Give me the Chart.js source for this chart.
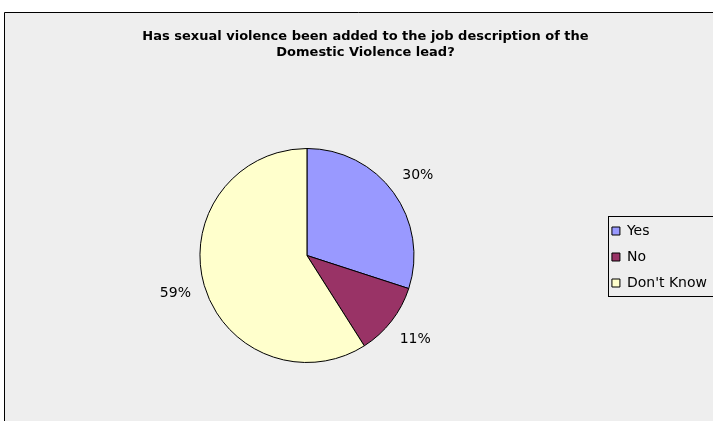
<!DOCTYPE html>
<html>
<head>
<meta charset="utf-8">
<script src="https://cdn.jsdelivr.net/npm/chart.js@4/dist/chart.umd.min.js"></script>
<style>
  html, body { margin: 0; padding: 0; background: #fff; }
  #wrap { width: 713px; height: 421px; }
</style>
</head>
<body>
<div id="wrap"><canvas id="pie" width="713" height="421"></canvas></div>
<script>
const categories = ['Yes', 'No', "Don't Know"]
const values = [30, 11, 59] // phần trăm
const colors = ['#9999FF', '#993366', '#FFFFCC']
const titleLines = ['Has sexual violence been added to the job description of the', 'Domestic Violence lead?']

const FONT = 'DejaVu Sans'
const PANEL_BG = '#eeeeee'

// nền xám + viền trên/trái của khung
const framePlugin = {
  id: 'frame',
  beforeDraw(chart) {
    const ctx = chart.ctx
    ctx.save()
    ctx.fillStyle = '#ffffff'
    ctx.fillRect(0, 0, chart.width, chart.height)
    ctx.fillStyle = PANEL_BG
    ctx.fillRect(4, 12, chart.width - 4, chart.height - 12)
    ctx.strokeStyle = '#000'
    ctx.lineWidth = 1
    ctx.beginPath()
    ctx.moveTo(4.5, chart.height)
    ctx.lineTo(4.5, 12.5)
    ctx.lineTo(chart.width, 12.5)
    ctx.stroke()
    ctx.restore()
  }
}

// khung viền quanh legend
const legendBoxPlugin = {
  id: 'legendBox',
  afterDraw(chart) {
    const boxes = chart.legend && chart.legend.legendHitBoxes
    if (!boxes || !boxes.length) return
    const first = boxes[0]
    const last = boxes[boxes.length - 1]
    const x = Math.round(first.left) - 3.5
    const top = Math.round(first.top) - 7.5
    const bottom = Math.round(last.top + last.height) + 6.5
    const ctx = chart.ctx
    ctx.save()
    ctx.strokeStyle = '#000'
    ctx.lineWidth = 1
    ctx.strokeRect(x, top, chart.width - x + 5, bottom - top)
    ctx.restore()
  }
}

// nhãn phần trăm bên ngoài mỗi miếng
const pctLabelPlugin = {
  id: 'pctLabels',
  afterDatasetsDraw(chart) {
    const ctx = chart.ctx
    const meta = chart.getDatasetMeta(0)
    const total = values.reduce((a, b) => a + b, 0)
    ctx.save()
    ctx.font = `14px "${FONT}"`
    ctx.fillStyle = '#000'
    ctx.textAlign = 'center'
    ctx.textBaseline = 'middle'
    meta.data.forEach((arc, i) => {
      const p = arc.getProps(['x', 'y', 'startAngle', 'endAngle', 'outerRadius'], true)
      const mid = (p.startAngle + p.endAngle) / 2
      const r = p.outerRadius + 30
      const text = Math.round(values[i] / total * 100) + '%'
      ctx.fillText(text, p.x + Math.cos(mid) * r, p.y + Math.sin(mid) * r)
    })
    ctx.restore()
  }
}

new Chart(document.getElementById('pie'), {
  type: 'pie',
  data: {
    labels: categories,
    datasets: [{
      data: values,
      backgroundColor: colors,
      borderColor: '#000',
      borderWidth: 1
    }]
  },
  options: {
    responsive: false,
    animation: false,
    radius: 107,
    layout: { padding: { left: 14, right: -4, top: 0, bottom: 1 } },
    plugins: {
      title: {
        display: true,
        text: titleLines,
        color: '#000',
        font: { family: FONT, size: 13, weight: 'bold', lineHeight: 1.23 },
        padding: { top: 29, bottom: 30 }
      },
      legend: {
        position: 'right',
        align: 'start',
        title: {
          display: true,
          text: ' ',
          font: { size: 1, lineHeight: 1 },
          padding: { top: 211, bottom: 0 }
        },
        labels: {
          boxWidth: 8,
          boxHeight: 8,
          padding: 12,
          color: '#000',
          font: { family: FONT, size: 14 }
        }
      },
      tooltip: { enabled: false }
    }
  },
  plugins: [framePlugin, legendBoxPlugin, pctLabelPlugin]
})
</script>
</body>
</html>
